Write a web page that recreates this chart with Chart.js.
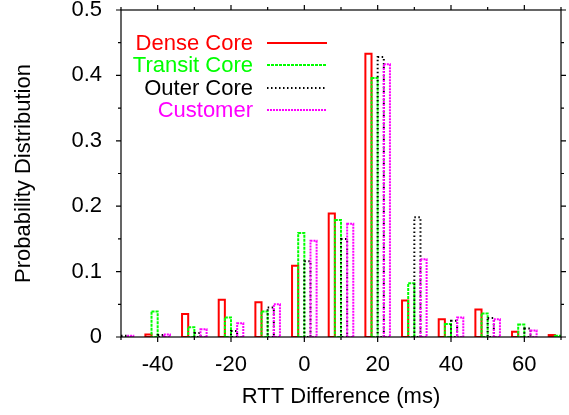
<!DOCTYPE html>
<html>
<head>
<meta charset="utf-8">
<script src="https://cdn.jsdelivr.net/npm/chart.js@4.4.0/dist/chart.umd.min.js"></script>
<style>
  html, body { margin: 0; padding: 0; background: #fff; }
  #wrap { width: 569px; height: 415px; }
</style>
</head>
<body>
<div id="wrap"><canvas id="myChart"></canvas></div>
<script>
// bin centres of the RTT difference histogram (ms)
const rttBins = [-50, -40, -30, -20, -10, 0, 10, 20, 30, 40, 50, 60, 70];

// probability per bin
const denseCore   = [0.001, 0.004, 0.035, 0.057, 0.053, 0.109, 0.189, 0.433, 0.056, 0.027, 0.042, 0.008, 0.003];
const transitCore = [0.001, 0.039, 0.015, 0.030, 0.039, 0.159, 0.179, 0.396, 0.082, 0.020, 0.036, 0.019, 0.002];
const outerCore   = [0.002, 0.003, 0.006, 0.009, 0.045, 0.116, 0.150, 0.428, 0.183, 0.025, 0.029, 0.013, 0.001];
const customer    = [0.002, 0.004, 0.012, 0.021, 0.050, 0.147, 0.173, 0.417, 0.119, 0.030, 0.027, 0.010, 0.001];

// tick labels
const xTickLabels = [-40, -20, 0, 20, 40, 60];
const yTickLabels = [0, 0.1, 0.2, 0.3, 0.4, 0.5];

const FONT = '"Liberation Sans", Arial, sans-serif';

function toPoints(values) {
	return rttBins.map((b, i) => ({ x: b, y: values[i] }));
}

// bars are drawn as open outlines with gnuplot-like dash patterns
const outlinePlugin = {
	id: 'outlines',
	afterDatasetsDraw(chart) {
		const ctx = chart.ctx;
		const a = chart.chartArea;
		ctx.save();
		ctx.beginPath();
		ctx.rect(a.left, a.top, a.right - a.left, a.bottom - a.top);
		ctx.clip();
		chart.data.datasets.forEach((ds, i) => {
			const meta = chart.getDatasetMeta(i);
			ctx.strokeStyle = ds.borderColor;
			ctx.lineWidth = 2;
			ctx.setLineDash(ds.dash);
			meta.data.forEach(bar => {
				const left = bar.x - bar.width / 2;
				ctx.beginPath();
				ctx.rect(left, bar.y, bar.width, bar.base - bar.y);
				ctx.stroke();
			});
		});
		ctx.restore();
	}
};

// box round the plot with outward ticks on all four sides
const framePlugin = {
	id: 'frame',
	afterDraw(chart) {
		const ctx = chart.ctx;
		const a = chart.chartArea;
		const x = chart.scales.x;
		const y = chart.scales.y;
		ctx.save();
		ctx.strokeStyle = '#000';
		ctx.lineWidth = 1.2;
		ctx.setLineDash([]);
		ctx.strokeRect(a.left, a.top, a.right - a.left, a.bottom - a.top);

		ctx.beginPath();
		for (let v = x.min; v <= x.max; v += 10) {
			const px = x.getPixelForValue(v);
			const len = xTickLabels.includes(v) ? 5 : 3;
			ctx.moveTo(px, a.bottom); ctx.lineTo(px, a.bottom + len);
			ctx.moveTo(px, a.top); ctx.lineTo(px, a.top - len);
		}
		for (let k = 0; k <= 10; k++) {
			const v = k * 0.05;
			const py = y.getPixelForValue(v);
			const len = (k % 2 === 0) ? 5 : 3;
			ctx.moveTo(a.left, py); ctx.lineTo(a.left - len, py);
			ctx.moveTo(a.right, py); ctx.lineTo(a.right + len, py);
		}
		ctx.stroke();
		ctx.restore();
	}
};

// legend inside the plot: right-aligned coloured text, line sample to the right
const legendPlugin = {
	id: 'insideLegend',
	afterDraw(chart) {
		const ctx = chart.ctx;
		const a = chart.chartArea;
		ctx.save();
		ctx.font = '22px ' + FONT;
		ctx.textAlign = 'right';
		ctx.textBaseline = 'middle';
		chart.data.datasets.forEach((ds, i) => {
			const rowY = Math.round(a.top + 33 + i * 22.4);
			ctx.fillStyle = ds.borderColor;
			ctx.fillText(ds.label, a.left + 132, rowY + 1);
			ctx.strokeStyle = ds.borderColor;
			ctx.lineWidth = 2;
			ctx.setLineDash(ds.dash);
			ctx.beginPath();
			ctx.moveTo(a.left + 146, rowY);
			ctx.lineTo(a.left + 206, rowY);
			ctx.stroke();
		});
		ctx.restore();
	}
};

const myChart = document.getElementById('myChart');

let histChart = new Chart(myChart, {
	type: 'bar',
	data: {
		datasets: [
			{ label: 'Dense Core', data: toPoints(denseCore), borderColor: '#ff0000', dash: [] },
			{ label: 'Transit Core', data: toPoints(transitCore), borderColor: '#00ff00', dash: [3, 1] },
			{ label: 'Outer Core', data: toPoints(outerCore), borderColor: '#000000', dash: [1.5, 2.5] },
			{ label: 'Customer', data: toPoints(customer), borderColor: '#ff00ff', dash: [2, 1] }
		]
	},
	options: {
		responsive: true,
		maintainAspectRatio: false,
		animation: false,
		layout: { padding: { top: 10, right: 8, left: 0, bottom: 0 } },
		datasets: {
			bar: {
				categoryPercentage: 0.67,
				barPercentage: 1.0,
				backgroundColor: 'rgba(0,0,0,0)',
				borderWidth: 0
			}
		},
		plugins: {
			legend: { display: false },
			tooltip: { enabled: false }
		},
		scales: {
			x: {
				type: 'linear',
				min: -50,
				max: 70,
				offset: false,
				grid: { display: false, drawTicks: false },
				border: { display: false },
				afterBuildTicks: s => { s.ticks = xTickLabels.map(v => ({ value: v })); },
				ticks: { padding: 15, color: '#000', maxRotation: 0, autoSkip: false, font: { family: FONT, size: 22 } },
				title: {
					display: true,
					text: 'RTT Difference (ms)',
					color: '#000',
					font: { family: FONT, size: 22 },
					padding: { top: 0, bottom: 5 }
				},
				afterFit: s => { s.height = 78; s.paddingLeft = 0; s.paddingRight = 0; }
			},
			y: {
				min: 0,
				max: 0.5,
				grid: { display: false, drawTicks: false },
				border: { display: false },
				afterBuildTicks: s => { s.ticks = yTickLabels.map(v => ({ value: v })); },
				ticks: { padding: 19, color: '#000', font: { family: FONT, size: 22 } },
				title: {
					display: true,
					text: 'Probability Distribution',
					color: '#000',
					font: { family: FONT, size: 22 },
					padding: { top: 11, bottom: 0 }
				},
				afterFit: s => { s.width = 121; s.paddingTop = 0; s.paddingBottom = 0; }
			}
		}
	},
	plugins: [outlinePlugin, framePlugin, legendPlugin]
});
</script>
</body>
</html>
